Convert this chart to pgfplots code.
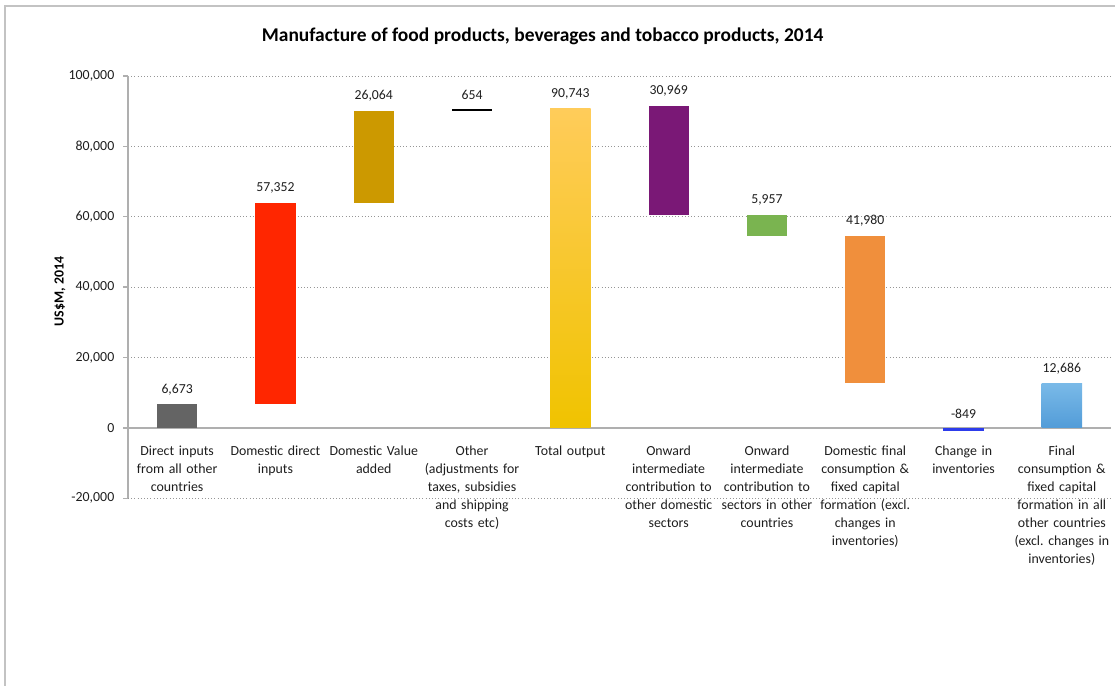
\documentclass[border=0pt]{standalone}
\usepackage{pgfplots}
\pgfplotsset{compat=1.18}
\usepackage{fontspec}
\setmainfont{Carlito}
\frenchspacing
\definecolor{txt}{RGB}{30,30,30}
\definecolor{gridc}{RGB}{150,150,150}
\definecolor{axc}{RGB}{175,175,175}
\definecolor{c1}{RGB}{100,100,100}
\definecolor{c2}{RGB}{255,38,0}
\definecolor{c3}{RGB}{204,153,0}
\definecolor{c4}{RGB}{0,0,0}
\definecolor{c5t}{RGB}{255,204,90}
\definecolor{c5b}{RGB}{240,195,0}
\definecolor{c6}{RGB}{122,24,118}
\definecolor{c7}{RGB}{122,180,80}
\definecolor{c8}{RGB}{240,143,60}
\definecolor{c9}{RGB}{45,60,235}
\definecolor{c10t}{RGB}{122,186,232}
\definecolor{c10b}{RGB}{82,156,216}
\begin{document}
\begin{tikzpicture}
\useasboundingbox (0,0) rectangle (836.25pt,-514.5pt);
\draw[color={rgb,255:red,195;green,195;blue,195}, line width=1.4pt] (3.9pt,-600pt) -- (3.9pt,-4.5pt) -- (900pt,-4.5pt);
\node[font=\bfseries\fontsize{14.6}{17}\selectfont, text=black] at (407pt,-27pt) {Manufacture of food products, beverages and tobacco products, 2014};
\begin{axis}[
  at={(96pt,-57pt)}, anchor=north west,
  scale only axis, width=737.25pt, height=316.7pt,
  xmin=0.5, xmax=10.5, ymin=-20000, ymax=100000,
  clip=false,
  scaled y ticks=false,
  axis x line*=middle, axis y line*=left,
  hide obscured x ticks=false, hide obscured y ticks=false,
  x axis line style={color=axc, line width=1.5pt},
  y axis line style={color=axc, line width=1pt},
  ytick={-20000,0,20000,40000,60000,80000,100000},
  yticklabels={{-20,000},{0},{20,000},{40,000},{60,000},{80,000},{100,000}},
  yticklabel style={font=\fontsize{10.4}{12}\selectfont, text=txt, xshift=-3pt},
  ymajorgrids, major grid style={color=gridc, dotted, line width=0.6pt},
  tick align=outside,
  major tick length=3.75pt, minor tick length=3.75pt,
  ytick style={color=axc, line width=1pt},
  xtick={1,...,10},
  xtick style={draw=none},
  minor xtick={0.5,1.5,...,10.5},
  minor x tick style={color=axc, line width=1pt},
  xticklabels={{Direct inputs\\from all other\\countries},{Domestic direct\\inputs},{Domestic Value\\added},{Other\\(adjustments for\\taxes, subsidies\\and shipping\\costs etc)},{Total output},{Onward\\intermediate\\contribution to\\other domestic\\sectors},{Onward\\intermediate\\contribution to\\sectors in other\\countries},{Domestic final\\consumption \&\\fixed capital\\formation (excl.\\changes in\\inventories)},{Change in\\inventories},{Final\\consumption \&\\fixed capital\\formation in all\\other countries\\(excl. changes in\\inventories)}},
  xticklabel style={font=\fontsize{10.4}{13.5}\selectfont, text=txt, align=center, text width=76pt, yshift=-6.2pt},
  every axis y label/.style={at={(axis description cs:0,0.49)}, xshift=-51pt, rotate=90, anchor=center, font=\bfseries\fontsize{10.4}{12}\selectfont, text=black},
  ylabel={US\$M, 2014},
]
\addplot[fill=c1, draw=none] coordinates {(0.795,0) (1.205,0) (1.205,6673) (0.795,6673)} --cycle;
\addplot[fill=c2, draw=none] coordinates {(1.795,6673) (2.205,6673) (2.205,64025) (1.795,64025)} --cycle;
\addplot[fill=c3, draw=none] coordinates {(2.795,64025) (3.205,64025) (3.205,90089) (2.795,90089)} --cycle;
\addplot[fill=c4, draw=none] coordinates {(3.795,90089) (4.205,90089) (4.205,90743) (3.795,90743)} --cycle;
\addplot[top color=c5t, bottom color=c5b, draw=none] coordinates {(4.795,0) (5.205,0) (5.205,90743) (4.795,90743)} --cycle;
\addplot[fill=c6, draw=none] coordinates {(5.795,60623) (6.205,60623) (6.205,91592) (5.795,91592)} --cycle;
\addplot[fill=c7, draw=none] coordinates {(6.795,54666) (7.205,54666) (7.205,60623) (6.795,60623)} --cycle;
\addplot[fill=c8, draw=none] coordinates {(7.795,12686) (8.205,12686) (8.205,54666) (7.795,54666)} --cycle;
\addplot[fill=c9, draw=none] coordinates {(8.795,-849) (9.205,-849) (9.205,0) (8.795,0)} --cycle;
\addplot[top color=c10t, bottom color=c10b, draw=none] coordinates {(9.795,0) (10.205,0) (10.205,12686) (9.795,12686)} --cycle;
\addplot[draw=none, mark=none, nodes near coords={\pgfplotspointmeta}, point meta=explicit symbolic,
  every node near coord/.append style={anchor=south, yshift=3.5pt, font=\fontsize{10.3}{12}\selectfont, text=txt}]
  coordinates {(1,6673)[6,673] (2,64025)[57,352] (3,90089)[26,064] (4,90743)[654] (5,90743)[90,743] (6,91592)[30,969] (7,60623)[5,957] (8,54666)[41,980] (9,0)[-849] (10,12686)[12,686]};
\end{axis}
\end{tikzpicture}
\end{document}
